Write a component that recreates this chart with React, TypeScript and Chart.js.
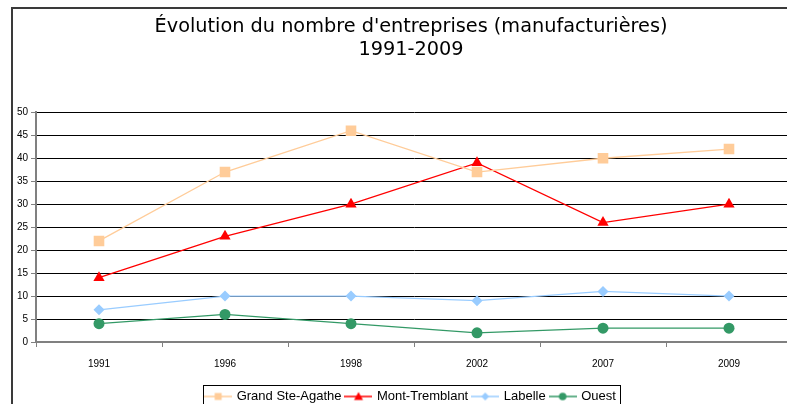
import React, { useEffect, useRef } from 'react';
import { Chart, registerables } from 'chart.js';

Chart.register(...registerables);

const years = ['1991', '1996', '1998', '2002', '2007', '2009'];
const grandSteAgathe = [22, 37, 46, 37, 40, 42];
const montTremblant = [14, 23, 30, 39, 26, 30];
const labelle = [7, 10, 10, 9, 11, 10];
const ouest = [4, 6, 4, 2, 3, 3];
const seriesNames = ['Grand Ste-Agathe', 'Mont-Tremblant', 'Labelle', 'Ouest'];
const titleLines = ["Évolution du nombre d'entreprises (manufacturières)", '1991-2009'];
const yMin = 0;
const yMax = 50;
const yStep = 5;

const colors = ['#FFCC99', '#FF0000', '#99CCFF', '#339966'];
const shapes = ['rect', 'triangle', 'rectRot', 'circle'];
const radii = [7.5, 6.5, 5.5, 5.5];

const smallFont = { family: "'Liberation Sans Narrow', 'Arial Narrow', 'Liberation Sans', sans-serif", size: 10 };

function makeIcon(color: string, shape: string): HTMLCanvasElement {
  const c = document.createElement('canvas');
  c.width = 28;
  c.height = 12;
  const ctx = c.getContext('2d')!;
  ctx.strokeStyle = color;
  ctx.lineWidth = 1.5;
  ctx.beginPath();
  ctx.moveTo(0, 6);
  ctx.lineTo(28, 6);
  ctx.stroke();
  ctx.fillStyle = color;
  ctx.beginPath();
  if (shape === 'rect') ctx.rect(10.5, 2.5, 7, 7);
  else if (shape === 'triangle') {
    ctx.moveTo(14, 1.5);
    ctx.lineTo(18.5, 9.5);
    ctx.lineTo(9.5, 9.5);
    ctx.closePath();
  } else if (shape === 'rectRot') {
    ctx.moveTo(14, 2);
    ctx.lineTo(18, 6);
    ctx.lineTo(14, 10);
    ctx.lineTo(10, 6);
    ctx.closePath();
  } else ctx.arc(14, 6, 3.8, 0, Math.PI * 2);
  ctx.fill();
  return c;
}

const legendBorder = {
  id: 'legendBorder',
  afterLayout(chart: any) {
    const y = chart.scales.y;
    if (y) y.left = 0;
  },
  afterDraw(chart: any) {
    const lg = chart.legend;
    if (!lg || !lg.legendHitBoxes || !lg.legendHitBoxes.length) return;
    const hb = lg.legendHitBoxes;
    const l = Math.min(...hb.map((h: any) => h.left)) - 3;
    const r = Math.max(...hb.map((h: any) => h.left + h.width)) + 4;
    const t = hb[0].top - 5;
    const ctx = chart.ctx;
    ctx.save();
    ctx.strokeStyle = '#000';
    ctx.lineWidth = 1;
    ctx.strokeRect(Math.round(l) + 0.5, Math.round(t) + 0.5, Math.round(r - l), 60);
    ctx.restore();
  },
};

export default function App() {
  const ref = useRef<HTMLCanvasElement>(null);
  useEffect(() => {
    const icons = colors.map((c, i) => makeIcon(c, shapes[i]));
    const data = [grandSteAgathe, montTremblant, labelle, ouest];
    const chart = new Chart(ref.current!, {
      type: 'line',
      data: {
        labels: years,
        datasets: data.map((d, i) => ({
          label: seriesNames[i],
          data: d,
          borderColor: colors[i],
          backgroundColor: colors[i],
          borderWidth: 1.3,
          pointStyle: shapes[i] as any,
          pointRadius: radii[i],
          pointBorderWidth: 0,
          pointBackgroundColor: colors[i],
          tension: 0,
          fill: false,
        })),
      },
      options: {
        animation: false,
        responsive: false,
        devicePixelRatio: 1,
        layout: { padding: { left: 30, right: 8, top: 0, bottom: 0 } },
        scales: {
          x: {
            offset: true,
            grid: {
              offset: true,
              drawOnChartArea: false,
              drawTicks: true,
              tickLength: 5,
              tickColor: '#808080',
              tickWidth: 1,
            },
            border: { display: true, color: '#808080', width: 2 },
            ticks: { font: smallFont, color: '#000', padding: 11, maxRotation: 0 },
            afterFit: (scale: any) => {
              scale.height += 4;
            },
          },
          y: {
            min: yMin,
            max: yMax,
            ticks: { stepSize: yStep, font: smallFont, color: '#000', padding: 3 },
            grid: {
              color: '#000',
              lineWidth: 1,
              drawTicks: true,
              tickLength: 5,
              tickColor: '#808080',
            },
            border: { display: true, color: '#808080', width: 2 },
            afterFit: (scale: any) => {
              scale.width = 6;
            },
          },
        },
        plugins: {
          title: {
            display: true,
            text: titleLines,
            color: '#000',
            font: { family: "'DejaVu Sans', sans-serif", size: 19.3, weight: 'normal' as any, lineHeight: 1.2 },
            padding: { top: 15, bottom: 51 },
          },
          legend: {
            position: 'bottom',
            labels: {
              usePointStyle: true,
              pointStyleWidth: 24,
              padding: 5,
              color: '#000',
              font: { family: "'Liberation Sans', Arial, sans-serif", size: 13 },
              generateLabels: (ch: any) => {
                const items = (Chart.defaults.plugins.legend.labels as any).generateLabels(ch);
                return items.map((it: any, i: number) => ({ ...it, pointStyle: icons[i], lineWidth: 0 }));
              },
            },
          },
          tooltip: { enabled: false },
        },
      },
      plugins: [legendBorder],
    });
    return () => chart.destroy();
  }, []);

  return (
    <div style={{ position: 'fixed', left: 0, top: 0, width: 787, height: 404, overflow: 'hidden', background: '#fff' }}>
      <div
        style={{
          position: 'absolute',
          left: 11,
          top: 7,
          width: 820,
          height: 500,
          borderLeft: '2px solid #3a3a3a',
          borderTop: '2px solid #3a3a3a',
        }}
      />
      <canvas
        ref={ref}
        width={800}
        height={413}
        style={{ position: 'absolute', left: 0, top: 0, width: 800, height: 413 }}
      />
    </div>
  );
}
